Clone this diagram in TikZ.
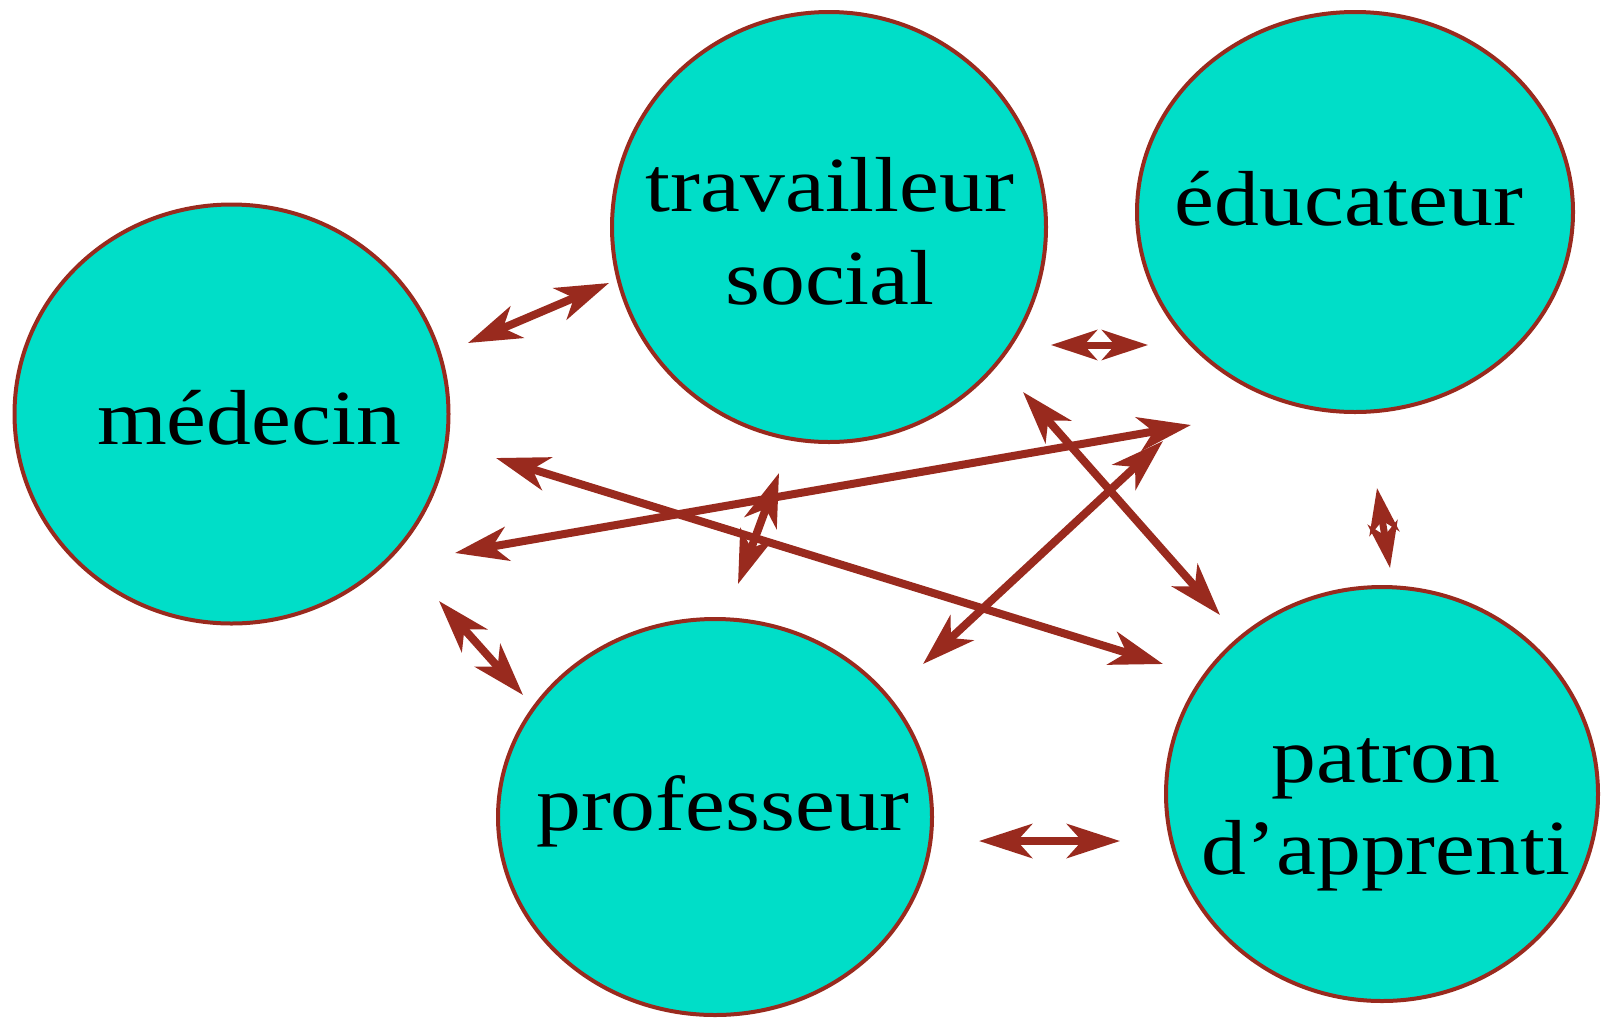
\documentclass[tikz,border=0pt]{standalone}
\usepackage{fontspec}
\setmainfont{Liberation Serif}[FakeStretch=1.15]
\usetikzlibrary{shapes.geometric,arrows.meta}
\definecolor{bubble}{RGB}{0,222,200}
\definecolor{rim}{RGB}{153,42,30}
\tikzset{
  bubble/.style={ellipse,draw=rim,fill=bubble,line width=4pt,inner sep=0pt},
  lbl/.style={anchor=base,inner sep=0pt,font=\fontsize{78}{90}\selectfont},
  link/.style={draw=rim,line width=8pt,{Stealth[length=53pt,width=34pt,inset=15pt]}-{Stealth[length=53pt,width=34pt,inset=15pt]}},
  slink/.style={draw=rim,line width=7pt,{Stealth[length=46pt,width=30pt,inset=13pt]}-{Stealth[length=46pt,width=30pt,inset=13pt]}},
}
\begin{document}
\begin{tikzpicture}[x=1pt,y=-1pt]
\useasboundingbox (0,0) rectangle (1602,1018);
\node[bubble,minimum width=434pt,minimum height=419pt] (med) at (231.5,414) {};
\node[bubble,minimum width=434pt,minimum height=430pt] (trav) at (829,227) {};
\node[bubble,minimum width=436pt,minimum height=400pt] (edu) at (1355,212) {};
\node[bubble,minimum width=434pt,minimum height=396pt] (prof) at (715,817) {};
\node[bubble,minimum width=432pt,minimum height=414pt] (pat) at (1382,794) {};

\node[lbl] (tmed) at (249,444) {médecin};
\node[lbl] (ttrav1) at (830,211) {travailleur};
\node[lbl] (ttrav2) at (830,304) {social};
\node[lbl] (tedu) at (1349,225) {éducateur};
\node[lbl] (tprof) at (723,830) {professeur};
\node[lbl] (tpat1) at (1386,782) {patron};
\node[lbl] (tpat2) at (1386,874) {d’apprenti};

\coordinate (a1) at (468,343);  \coordinate (b1) at (609,283);
\coordinate (a2) at (1051,345); \coordinate (b2) at (1148,345);
\coordinate (a3) at (1377,488); \coordinate (b3) at (1390,568);
\coordinate (a4) at (979,841);  \coordinate (b4) at (1120,841);
\coordinate (a5) at (439,601);  \coordinate (b5) at (523,695);
\coordinate (a6) at (779,473);  \coordinate (b6) at (738,584);
\coordinate (a7) at (455,553);  \coordinate (b7) at (1191,425);
\coordinate (a8) at (496,458);  \coordinate (b8) at (1163,664);
\coordinate (a9) at (1023,392); \coordinate (b9) at (1220,615);
\coordinate (a10) at (1163,441); \coordinate (b10) at (923,664);

\draw[link] (a1) -- (b1);
\draw[slink] (a2) -- (b2);
\draw[slink] (a3) -- (b3);
\draw[link] (a4) -- (b4);
\draw[link] (a5) -- (b5);
\draw[link] (a6) -- (b6);
\draw[link] (a7) -- (b7);
\draw[link] (a8) -- (b8);
\draw[link] (a9) -- (b9);
\draw[link] (a10) -- (b10);
\end{tikzpicture}
\end{document}
